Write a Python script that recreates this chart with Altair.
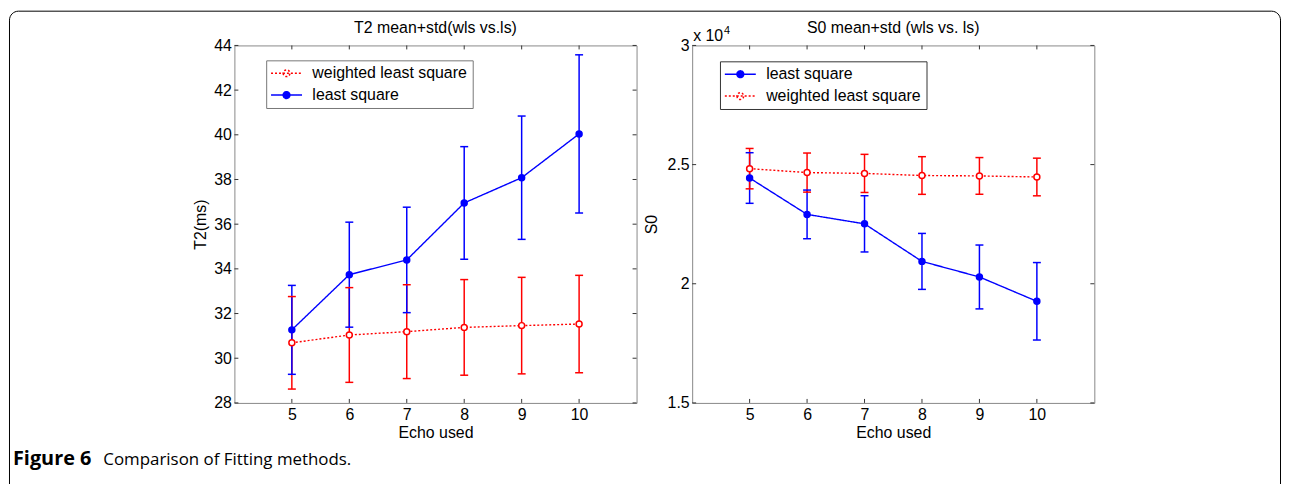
import altair as alt
import pandas as pd

# ---------------- data ----------------
echo = [5, 6, 7, 8, 9, 10]
x_ticks = [5, 6, 7, 8, 9, 10]

LS = "least square"
WLS = "weighted least square"

t2_ls_mean = [31.27, 33.74, 34.40, 36.95, 38.08, 40.04]
t2_ls_std = [1.99, 2.35, 2.36, 2.52, 2.76, 3.54]
t2_wls_mean = [30.69, 31.04, 31.19, 31.38, 31.46, 31.53]
t2_wls_std = [2.07, 2.12, 2.10, 2.14, 2.16, 2.18]
t2_ticks = [28, 30, 32, 34, 36, 38, 40, 42, 44]

s0_ls_mean = [24437, 22910, 22514, 20938, 20285, 19264]
s0_ls_std = [1062, 1021, 1180, 1174, 1340, 1625]
s0_wls_mean = [24830, 24665, 24630, 24542, 24525, 24480]
s0_wls_std = [847, 820, 800, 790, 770, 790]
s0_ticks = [15000, 20000, 25000, 30000]

t2_title = "T2 mean+std(wls vs.ls)"
s0_title = "S0 mean+std (wls vs. ls)"
x_title = "Echo used"
t2_ytitle = "T2(ms)"
s0_ytitle = "S0"
exp_base = "x 10"
exp_power = "4"
caption_bold = "Figure 6"
caption_text = "Comparison of Fitting methods."

FONT = "Liberation Sans"
W, H = 405, 360
SYMBOL_PATH = "M-3.9,0L3.9,0M-0.85,0A0.85,0.85,0,1,0,0.85,0A0.85,0.85,0,1,0,-0.85,0Z"

COLORS = {LS: "#0000ff", WLS: "#ff0000"}
FILLS = {LS: "#0000ff", WLS: "#ffffff"}
DASHES = {LS: [1, 0], WLS: [2, 2]}


def make_df(order, series):
    rows = []
    for name in order:
        mean, std = series[name]
        for e, m, s in zip(echo, mean, std):
            rows.append({"echo": e, "method": name, "mean": m, "lo": m - s, "hi": m + s})
    return pd.DataFrame(rows)


def text_layer(txt, x, y, size=16, weight="normal", font=FONT, align="left"):
    return alt.Chart(pd.DataFrame({"t": [txt]})).mark_text(
        align=align, baseline="alphabetic", font=font, fontSize=size, fontWeight=weight,
        color="black").encode(text="t:N", x=alt.value(x), y=alt.value(y))


def panel(df, order, ydom, yticks, ytitle, title, leg_x, leg_y, leg_stroke,
          title_pad, label_expr=None, extra=None):
    leg = alt.Legend(title=None, orient="none", legendX=leg_x, legendY=leg_y,
                     direction="vertical", fillColor="white", strokeColor=leg_stroke,
                     padding=5, rowPadding=6, symbolType=SYMBOL_PATH, symbolSize=64,
                     symbolStrokeWidth=1.5, symbolOffset=7.5, labelOffset=18,
                     labelFont=FONT, labelFontSize=16, labelColor="black", labelLimit=0)
    color = alt.Color("method:N", scale=alt.Scale(domain=order, range=[COLORS[m] for m in order]),
                      legend=leg)
    fill = alt.Fill("method:N", scale=alt.Scale(domain=order, range=[FILLS[m] for m in order]),
                    legend=leg)
    dash = alt.StrokeDash("method:N", scale=alt.Scale(domain=order, range=[DASHES[m] for m in order]),
                          legend=leg)

    xscale = alt.Scale(domain=[4, 11], nice=False, zero=False)
    yscale = alt.Scale(domain=ydom, nice=False, zero=False)
    xaxis = alt.Axis(values=x_ticks, title=x_title, labelPadding=4, titlePadding=2)
    yargs = dict(values=yticks, title=ytitle, labelPadding=3, titlePadding=title_pad)
    if label_expr:
        yargs["labelExpr"] = label_expr
    yaxis = alt.Axis(**yargs)

    base = alt.Chart(df)
    X = alt.X("echo:Q", scale=xscale, axis=xaxis)
    X2 = alt.X2("echo:Q")

    bars = base.mark_rule(strokeWidth=1.5).encode(
        x=X, y=alt.Y("lo:Q", scale=yscale, axis=yaxis), y2="hi:Q", color=color)
    cap_lo = base.mark_rule(strokeWidth=1.5, xOffset=-4, x2Offset=4).encode(
        x=X, x2=X2, y=alt.Y("lo:Q", scale=yscale, axis=yaxis), color=color)
    cap_hi = base.mark_rule(strokeWidth=1.5, xOffset=-4, x2Offset=4).encode(
        x=X, x2=X2, y=alt.Y("hi:Q", scale=yscale, axis=yaxis), color=color)
    lines = base.mark_line(strokeWidth=1.4).encode(
        x=X, y=alt.Y("mean:Q", scale=yscale, axis=yaxis), color=color, strokeDash=dash,
        detail="method:N")
    pts = base.mark_point(size=36, strokeWidth=1.5, opacity=1, filled=False).encode(
        x=X, y=alt.Y("mean:Q", scale=yscale, axis=yaxis), color=color, fill=fill)

    ydf = pd.DataFrame({"v": yticks})
    xdf = pd.DataFrame({"v": x_ticks})
    tl = alt.Chart(ydf).mark_rule(color="#333", strokeWidth=1).encode(
        y=alt.Y("v:Q", scale=yscale, axis=yaxis), x=alt.value(0), x2=alt.value(4))
    tr = alt.Chart(ydf).mark_rule(color="#333", strokeWidth=1).encode(
        y=alt.Y("v:Q", scale=yscale, axis=yaxis), x=alt.value(W - 4), x2=alt.value(W))
    tb = alt.Chart(xdf).mark_rule(color="#333", strokeWidth=1).encode(
        x=alt.X("v:Q", scale=xscale, axis=xaxis), y=alt.value(H - 4), y2=alt.value(H))
    tt = alt.Chart(xdf).mark_rule(color="#333", strokeWidth=1).encode(
        x=alt.X("v:Q", scale=xscale, axis=xaxis), y=alt.value(0), y2=alt.value(4))

    ttl = text_layer(title, W / 2, -13, align="center")

    layers = [tl, tr, tb, tt, bars, cap_lo, cap_hi, lines, pts, ttl]
    if extra:
        layers += extra
    return alt.layer(*layers).properties(width=W, height=H)


# decorations
one = pd.DataFrame({"k": [0]})
border = alt.Chart(one).mark_rect(fillOpacity=0, stroke="black", strokeWidth=1,
                                  cornerRadiusTopLeft=9, cornerRadiusTopRight=9).encode(
    x=alt.value(-226.5), x2=alt.value(1053.5), y=alt.value(-34.5), y2=alt.value(445))
cap1 = text_layer(caption_bold, -223, 423, size=20, weight="bold", font="Open Sans")
cap2 = text_layer(caption_text, -132, 423, size=17, font="Open Sans")
e1 = text_layer(exp_base, 1, -4)
e2 = text_layer(exp_power, 32, -12, size=11)

left_order = [WLS, LS]
right_order = [LS, WLS]
df_t2 = make_df(left_order, {LS: (t2_ls_mean, t2_ls_std), WLS: (t2_wls_mean, t2_wls_std)})
df_s0 = make_df(right_order, {LS: (s0_ls_mean, s0_ls_std), WLS: (s0_wls_mean, s0_wls_std)})

left = panel(df_t2, left_order, [28, 44], t2_ticks, t2_ytitle, t2_title, 32, 15, "#777777",
             5, extra=[border, cap1, cap2])
right = panel(df_s0, right_order, [15000, 30000], s0_ticks, s0_ytitle, s0_title, 28, 16,
              "#333333", 8, label_expr="datum.value / 10000 + ''", extra=[e1, e2])

chart = alt.hconcat(left, right, spacing=56, bounds="flush").resolve_scale(
    x="independent", y="independent", color="independent", fill="independent",
    strokeDash="independent").resolve_legend(
    color="independent", fill="independent", strokeDash="independent").properties(
    padding=0, background="white").configure_view(stroke="#888888", strokeWidth=1).configure_axis(
    labelFont=FONT, labelFontSize=16, labelColor="black", titleFont=FONT, titleFontSize=16,
    titleFontWeight="normal", titleColor="black", ticks=False, tickSize=0, domain=False,
    grid=False, labelFlush=False, labelOverlap=False)

chart.save("out.html", embed_options={"renderer": "svg", "actions": False})
